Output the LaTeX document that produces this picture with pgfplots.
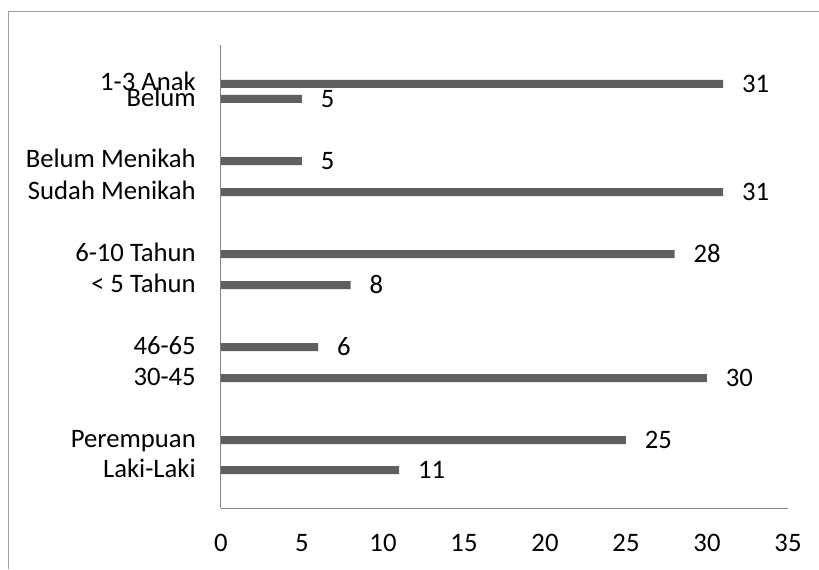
\documentclass[border=0pt]{standalone}
\usepackage{fontspec}
\setmainfont{Carlito}
\usepackage{pgfplots}
\pgfplotsset{compat=1.18}
\definecolor{barcol}{RGB}{95,95,95}
\definecolor{axcol}{RGB}{134,134,134}
\definecolor{framecol}{RGB}{160,160,160}
\begin{document}
\begin{tikzpicture}
\begin{axis}[
 at={(0,0)}, anchor=south west,
 scale only axis, width=425.25pt, height=347.25pt,
 xmin=0, xmax=35, ymin=-508, ymax=-45,
 xtick={0,5,...,35},
 ytick={-470,-440,-378,-347,-285,-254,-192,-161,-99,-84},
 yticklabels={Laki-Laki, Perempuan~, 30-45, 46-65, < 5 Tahun, 6-10 Tahun, Sudah Menikah, Belum Menikah, Belum~, 1-3 Anak},
 axis x line*=bottom, axis y line*=left,
 axis line style={axcol, line width=0.75pt, -},
 major tick length=0pt,
 tick label style={font=\fontsize{20}{21}\selectfont},
 /pgf/number format/assume math mode=true,
 xticklabel style={anchor=base, inner sep=0pt, yshift=-32.25pt},
 yticklabel style={anchor=base east, inner sep=0pt, xshift=-18.75pt, yshift=-5.25pt},
 xbar, bar width=8,
 nodes near coords,
 nodes near coords style={anchor=base west, inner sep=0pt, xshift=14pt, yshift=-6pt, font=\fontsize{20}{21}\selectfont, text=black, /pgf/number format/assume math mode=true},
 clip=false,
]
\addplot[fill=barcol, draw=none] coordinates {(11,-470) (25,-440) (30,-378) (6,-347) (8,-285) (28,-254) (31,-192) (5,-161) (5,-99) (31,-84)};
\end{axis}
\draw[framecol, line width=0.75pt] (-159pt,-46pt) -- (-159pt,372pt) -- (449pt,372pt);
\pgfresetboundingbox
\path[use as bounding box] (-165.75pt,-45.75pt) rectangle (448.5pt,381pt);
\end{tikzpicture}
\end{document}
